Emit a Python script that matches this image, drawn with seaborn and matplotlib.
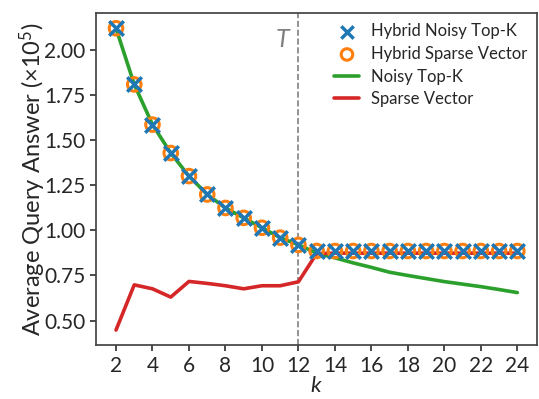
import matplotlib
matplotlib.use("Agg")
import matplotlib.pyplot as plt
import seaborn as sns
import pandas as pd

k = list(range(2, 25))
hybrid_noisy_topk = [2.123, 1.811, 1.588, 1.430, 1.302, 1.200, 1.125, 1.070, 1.015, 0.960, 0.920,
                     0.886, 0.886, 0.886, 0.886, 0.886, 0.886, 0.886, 0.886, 0.886, 0.886, 0.886, 0.886]
hybrid_sparse_vector = hybrid_noisy_topk[:]
noisy_topk = [2.123, 1.811, 1.588, 1.430, 1.302, 1.200, 1.125, 1.070, 1.015, 0.960, 0.920,
              0.875, 0.848, 0.820, 0.795, 0.768, 0.750, 0.733, 0.716, 0.702, 0.688, 0.672, 0.655]
sparse_vector = [0.447, 0.698, 0.676, 0.630, 0.717, 0.706, 0.693, 0.676, 0.693, 0.693, 0.715,
                 0.872, 0.874, 0.874, 0.874, 0.874, 0.874, 0.874, 0.874, 0.874, 0.874, 0.874, 0.874]
threshold_k = 12

df = pd.DataFrame({"k": k, "hnt": hybrid_noisy_topk, "hsv": hybrid_sparse_vector,
                   "nt": noisy_topk, "sv": sparse_vector})

sns.set_theme(style="ticks")
plt.rcParams["font.family"] = ["Lato", "DejaVu Sans"]
plt.rcParams["mathtext.fontset"] = "custom"
plt.rcParams["mathtext.rm"] = "Lato"
plt.rcParams["mathtext.it"] = "Lato:italic"

fig, ax = plt.subplots(figsize=(5.39, 3.99), dpi=100)

blue, orange, green, red = "#1f77b4", "#ff7f0e", "#2ca02c", "#d62728"

sns.lineplot(data=df, x="k", y="nt", color=green, linewidth=2.6, ax=ax, label="Noisy Top-K", zorder=2)
sns.lineplot(data=df, x="k", y="sv", color=red, linewidth=2.6, ax=ax, label="Sparse Vector", zorder=2)
sns.scatterplot(data=df, x="k", y="hsv", marker="o", s=95, facecolors="none", edgecolor=orange,
                linewidth=2.2, ax=ax, label="Hybrid Sparse Vector", zorder=3)
sns.scatterplot(data=df, x="k", y="hnt", marker="x", s=110, color=blue, linewidth=2.5,
                ax=ax, label="Hybrid Noisy Top-K", zorder=4)

ax.axvline(threshold_k, color="gray", linestyle="--", linewidth=1.2, zorder=1)
ax.text(11.15, 2.06, "$T$", color="gray", fontsize=18, ha="center", va="center")

handles, labels = ax.get_legend_handles_labels()
order = [labels.index(l) for l in ["Hybrid Noisy Top-K", "Hybrid Sparse Vector", "Noisy Top-K", "Sparse Vector"]]
ax.legend([handles[i] for i in order], [labels[i] for i in order], loc="upper right",
          frameon=False, fontsize=12, handlelength=1.5, borderaxespad=0.2, labelspacing=0.4,
          handletextpad=0.7, markerscale=0.85)

ax.set_xticks(list(range(2, 25, 2)))
ax.set_yticks([0.50, 0.75, 1.00, 1.25, 1.50, 1.75, 2.00])
ax.set_yticklabels(["0.50", "0.75", "1.00", "1.25", "1.50", "1.75", "2.00"])
ax.tick_params(labelsize=15, length=4, color="#333333")
ax.set_xlabel("$k$", fontsize=16, labelpad=0)
ax.set_ylabel("Average Query Answer ($\\times 10^5$)", fontsize=17, labelpad=-3)
for s in ax.spines.values():
    s.set_visible(True)
    s.set_color("#444444")

fig.subplots_adjust(left=0.178, right=0.997, top=0.967, bottom=0.135)
fig.savefig("out.png", dpi=100)
